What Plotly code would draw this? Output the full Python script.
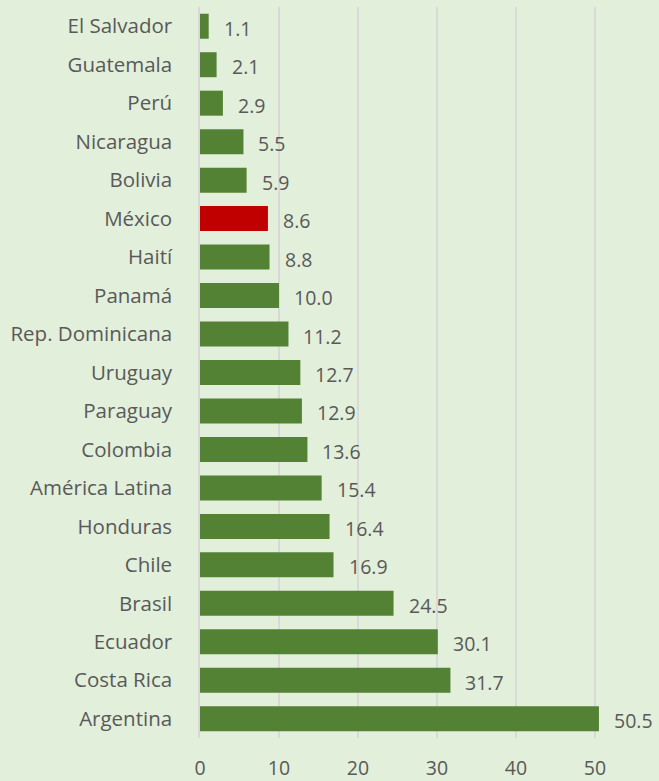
import plotly.graph_objects as go

countries = ["El Salvador", "Guatemala", "Perú", "Nicaragua", "Bolivia", "México",
             "Haití", "Panamá", "Rep. Dominicana", "Uruguay", "Paraguay", "Colombia",
             "América Latina", "Honduras", "Chile", "Brasil", "Ecuador", "Costa Rica",
             "Argentina"]
values = [1.1, 2.1, 2.9, 5.5, 5.9, 8.6, 8.8, 10.0, 11.2, 12.7, 12.9, 13.6,
          15.4, 16.4, 16.9, 24.5, 30.1, 31.7, 50.5]
x_ticks = [0, 10, 20, 30, 40, 50]

GREEN = "#548235"
RED = "#c00000"
highlight = "México"
colors = [RED if c == highlight else GREEN for c in countries]

FONT = "Open Sans"
TXT = "#595959"
FS_CAT = 20.5
FS_NUM = 19.5

fig = go.Figure(go.Bar(
    x=values, y=countries, orientation="h",
    marker=dict(color=colors, line=dict(width=0)),
    hoverinfo="skip",
))

for c, v in zip(countries, values):
    fig.add_annotation(x=v, y=c, text=f"{v:.1f}", showarrow=False,
                       xanchor="left", yanchor="middle", xshift=13, yshift=-2,
                       font=dict(family=FONT, size=FS_NUM, color=TXT))

fig.update_layout(
    width=659, height=781,
    margin=dict(l=200, r=0, t=7, b=43),
    paper_bgcolor="#e2efda", plot_bgcolor="#e2efda",
    bargap=0.35,
    showlegend=False,
    font=dict(family=FONT, size=FS_CAT, color=TXT),
    xaxis=dict(range=[0, 58.1], tickvals=x_ticks, showgrid=True,
               gridcolor="#d9d9d9", gridwidth=1.5, zeroline=False,
               showline=False, ticks="", ticklabelstandoff=16,
               tickfont=dict(family=FONT, size=FS_NUM, color=TXT), fixedrange=True),
    yaxis=dict(autorange="reversed", showgrid=False, showline=True,
               linecolor="#d9d9d9", linewidth=1.5, ticks="",
               ticklabelstandoff=22,
               tickfont=dict(family=FONT, size=FS_CAT, color=TXT), fixedrange=True),
)

fig.write_html("out.html", config={"displayModeBar": False},
               post_script="document.body.style.margin='0';document.body.style.overflow='hidden';")
